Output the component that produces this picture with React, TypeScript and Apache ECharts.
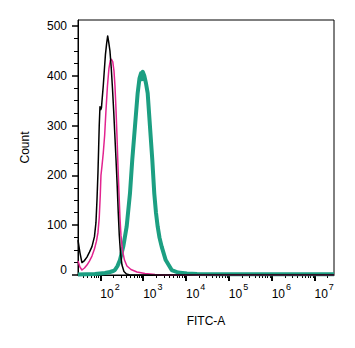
import React, { useEffect, useRef } from "react";
import * as echarts from "echarts";

// x extent of the plot, in decades (log10 of FITC-A)
const X_MIN_DECADE = 1.478;
const X_MAX_DECADE = 7.456;
const Y_MAX = 512;

const xTickValues = [100, 1000, 10000, 100000, 1000000, 10000000];
const yTickValues = [0, 100, 200, 300, 400, 500];
const minorMultipliers = [2, 3, 4, 5, 6, 7, 8, 9];
const minorDecades = [1, 2, 3, 4, 5, 6, 7];

// Black histogram (positions in decades, counts)
const blackDecades = [
  1.478, 1.523, 1.57, 1.629, 1.687, 1.745, 1.804, 1.862, 1.897, 1.921, 1.944, 1.96,
  1.974, 1.991, 2.009, 2.026, 2.037, 2.068, 2.096, 2.119, 2.147, 2.171, 2.194, 2.224,
  2.255, 2.283, 2.311, 2.336, 2.364, 2.393, 2.418, 2.442, 2.47, 2.505, 2.551, 2.61,
  2.692, 7.456,
];
const blackCounts = [
  70, 45, 25, 29, 36, 46, 57, 77, 105, 150, 205, 255,
  300, 338, 332, 336, 348, 380, 415, 443, 465, 480, 468, 450,
  415, 375, 330, 285, 235, 180, 125, 80, 45, 20, 7, 2,
  0, 0,
];

// Magenta histogram
const pinkDecades = [
  1.478, 1.523, 1.57, 1.629, 1.687, 1.745, 1.804, 1.862, 1.909, 1.944, 1.974, 1.998,
  2.014, 2.037, 2.068, 2.1, 2.131, 2.166, 2.201, 2.231, 2.259, 2.29, 2.318, 2.341,
  2.364, 2.388, 2.411, 2.435, 2.458, 2.481, 2.516, 2.563, 2.621, 2.715, 2.855, 3.042,
  3.276, 3.509, 7.456,
];
const pinkCounts = [
  28, 16, 10, 14, 20, 28, 38, 52, 68, 85, 115, 160,
  200, 218, 245, 280, 330, 380, 415, 430, 433, 428, 410, 380,
  335, 280, 220, 165, 115, 80, 50, 30, 18, 11, 6, 3,
  1, 0, 0,
];

// Teal histogram
const tealDecades = [
  1.478, 1.874, 1.991, 2.107, 2.224, 2.301, 2.341, 2.4, 2.458, 2.535, 2.614, 2.692,
  2.745, 2.808, 2.871, 2.914, 2.949, 2.97, 2.99, 3.026, 3.065, 3.105, 3.159, 3.213,
  3.259, 3.299, 3.339, 3.381, 3.432, 3.526, 3.666, 3.813, 4.023, 4.257, 4.794, 7.456,
];
const tealCounts = [
  1, 2, 3, 4, 6, 8, 10, 18, 30, 57, 97, 164,
  231, 298, 365, 395, 405, 393, 408, 400, 385, 365, 298, 231,
  164, 125, 97, 75, 57, 30, 10, 5, 3, 2, 1.5, 1.5,
];

const FONT = "Liberation Sans, Arial, sans-serif";

const toPairs = (dec: number[], cnt: number[]) =>
  dec.map((d, i) => [Math.pow(10, d), cnt[i]]);

const isPow10 = (v: number) => {
  const l = Math.log10(v);
  return Math.abs(l - Math.round(l)) < 1e-6;
};

export default function App() {
  const ref = useRef<HTMLDivElement>(null);

  useEffect(() => {
    if (!ref.current) return;
    const chart = echarts.init(ref.current, undefined, { renderer: "svg" });

    const xMin = Math.pow(10, X_MIN_DECADE);
    const xMax = Math.pow(10, X_MAX_DECADE);
    const minorTickData: number[][] = [];
    minorDecades.forEach((k) =>
      minorMultipliers.forEach((m) => {
        const v = m * Math.pow(10, k);
        if (v > xMin && v < xMax) minorTickData.push([v, 0]);
      })
    );

    const lineSeries = (name: string, data: number[][], color: string, width: number) => ({
      name,
      type: "line",
      data,
      showSymbol: false,
      symbol: "none",
      silent: true,
      clip: true,
      lineStyle: { color, width, join: "round" },
      emphasis: { disabled: true },
    });

    chart.setOption({
      animation: false,
      backgroundColor: "#ffffff",
      grid: {
        left: 78,
        right: 21,
        top: 20,
        bottom: 73,
        show: true,
        borderColor: "#000",
        borderWidth: 1,
        backgroundColor: "transparent",
      },
      xAxis: {
        type: "log",
        logBase: 10,
        min: xMin,
        max: xMax,
        name: "FITC-A",
        nameLocation: "middle",
        nameGap: 40,
        nameTextStyle: { fontSize: 12, color: "#000", fontFamily: FONT },
        axisLine: { show: true, lineStyle: { color: "#000", width: 1 } },
        axisTick: {
          show: true,
          length: 6,
          customValues: xTickValues,
          lineStyle: { color: "#000", width: 2 },
        },
        minorTick: { show: false },
        splitLine: { show: false },
        minorSplitLine: { show: false },
        axisLabel: {
          customValues: xTickValues,
          align: "left",
          margin: 7,
          formatter: (v: number) =>
            isPow10(v) ? `{b|10}{e|${Math.round(Math.log10(v))}}` : "",
          rich: {
            b: { fontSize: 12, color: "#000", fontFamily: FONT },
            e: { fontSize: 9, color: "#000", fontFamily: FONT, padding: [0, 0, 14, 1] },
          },
        },
      },
      yAxis: {
        type: "value",
        min: 0,
        max: Y_MAX,
        interval: 100,
        name: "Count",
        nameLocation: "middle",
        nameGap: 47,
        nameTextStyle: { fontSize: 12, color: "#000", fontFamily: FONT },
        axisLine: { show: true, lineStyle: { color: "#000", width: 1 } },
        axisTick: {
          show: true,
          length: 6,
          customValues: yTickValues,
          lineStyle: { color: "#000", width: 1.5 },
        },
        minorTick: { show: true, splitNumber: 4, length: 4, lineStyle: { color: "#000", width: 1 } },
        splitLine: { show: false },
        axisLabel: {
          customValues: yTickValues,
          margin: 11,
          formatter: (v: number) => (v === 0 ? "{z|0}" : `{n|${v}}`),
          rich: {
            n: { fontSize: 12, color: "#000", fontFamily: FONT },
            z: { fontSize: 12, color: "#000", fontFamily: FONT, padding: [0, 0, 10, 0] },
          },
        },
      },
      series: [
        {
          name: "minorTicks",
          type: "custom",
          silent: true,
          clip: false,
          data: minorTickData,
          encode: { x: 0, y: 1 },
          renderItem: (_params: any, api: any) => {
            const p = api.coord([api.value(0), 0]);
            const x = Math.round(p[0]) + 0.5;
            return {
              type: "line",
              shape: { x1: x, y1: p[1], x2: x, y2: p[1] + 3 },
              style: { stroke: "#000", lineWidth: 1 },
            };
          },
        },
        lineSeries("teal", toPairs(tealDecades, tealCounts), "#1c9f82", 4),
        lineSeries("magenta", toPairs(pinkDecades, pinkCounts), "#e2238f", 1.5),
        lineSeries("black", toPairs(blackDecades, blackCounts), "#000000", 1.5),
      ],
    });

    return () => chart.dispose();
  }, []);

  return (
    <div
      ref={ref}
      style={{ position: "fixed", left: 0, top: 0, width: 355, height: 348, background: "#fff" }}
    />
  );
}
